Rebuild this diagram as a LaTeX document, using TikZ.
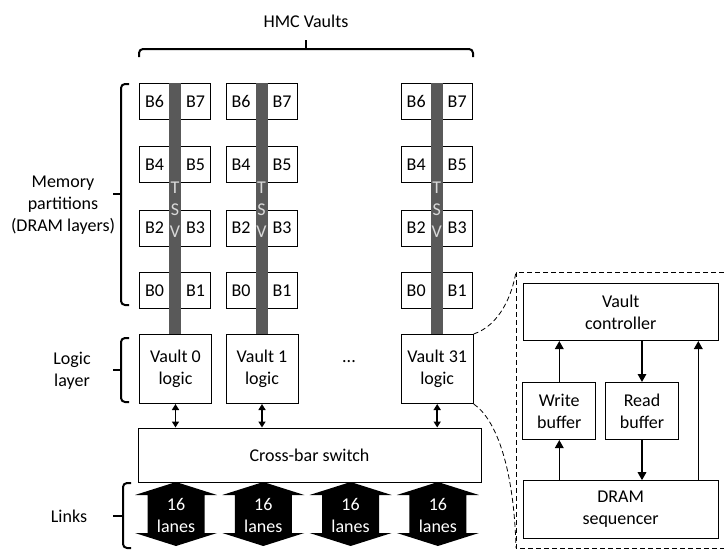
\documentclass[tikz,border=0pt]{standalone}
\usepackage{fontspec}
\setmainfont{Carlito}
\usetikzlibrary{arrows.meta,positioning}

\definecolor{tsvgray}{RGB}{89,89,89}
\definecolor{tsvtext}{RGB}{217,217,217}

\begin{document}
\begin{tikzpicture}[x=1pt,y=-1pt,
    label/.style={font=\fontsize{18}{22}\selectfont, align=center, inner sep=0pt},
    bank/.style={draw, line width=1pt, minimum width=30pt, minimum height=36pt,
        inner sep=0pt, font=\fontsize{18}{22}\selectfont},
    block/.style={draw, line width=1pt, align=center, inner sep=0pt,
        font=\fontsize{18}{22}\selectfont},
    bracket/.style={line width=2pt, rounded corners=4pt},
    link/.style={line width=1.6pt, >={Triangle[length=8pt,width=8.5pt]}},
    zoomline/.style={line width=1pt, dash pattern=on 5pt off 3pt}]
\useasboundingbox (0,0) rectangle (724,552);

% vaults: banks, TSV and logic die
\foreach \v/\x in {0/139,1/225.5,31/400.7}{
  \foreach \y/\lo/\hi in {83/6/7,146/4/5,209.5/2/3,272/0/1}{
    \node[bank, anchor=north west] (v\v b\lo) at (\x,\y) {B\lo};
    \node[bank, anchor=north east] (v\v b\hi) at (\x+72,\y) {B\hi};
  }
  \fill[tsvgray] (\x+30,83) rectangle (\x+42,334);
  \node[label, text=tsvtext] (tsv\v) at (\x+36,210) {T\\S\\V};
  \node[block, minimum width=72pt, minimum height=69pt, anchor=north west]
      (logic\v) at (\x,334) {Vault \v\\logic};
}
\node[label] (dots) at (349,362) {...};

\node[block, minimum width=343pt, minimum height=54pt] (xbar) at (309.5,455) {Cross-bar switch};
\foreach \v in {0,1,31}
  \draw[link,<->,>={Triangle[length=6pt,width=7pt]}] (logic\v.south) -- (logic\v.south |- xbar.north);

% links
\foreach \i in {1,...,4}{
  \pgfmathsetmacro\cx{176+87.3*(\i-1)}
  \fill (\cx,482) -- (\cx+41,495) -- (\cx+28.5,495) -- (\cx+28.5,533) -- (\cx+41,533)
     -- (\cx,546) -- (\cx-41,533) -- (\cx-28.5,533) -- (\cx-28.5,495) -- (\cx-41,495) -- cycle;
  \node[label, text=white] (lanes\i) at (\cx,515) {16\\lanes};
}

% brackets and captions
\draw[bracket] (473,57) |- (139,49) -- (139,57);
\draw[bracket] (306,49) -- (306,40);
\draw[bracket] (129,84) -| (121,305) -- (129,305);
\draw[bracket] (121,194) -- (113,194);
\draw[bracket] (129,338) -| (121,402) -- (129,402);
\draw[bracket] (121,370) -- (113,370);
\draw[bracket] (131,483) -| (123,548) -- (131,548);
\draw[bracket] (123,516) -- (113,516);

\node[label] (hmc) at (306,21) {HMC Vaults};
\node[label] (mem) at (63,205) {Memory\\partitions\\(DRAM layers)};
\node[label] (logiclayer) at (72,371) {Logic\\layer};
\node[label] (links) at (69,516) {Links};

% vault logic detail
\node[block, minimum width=195pt, minimum height=57pt] (ctrl) at (620.8,312) {Vault\\controller};
\node[block, minimum width=73pt, minimum height=57pt] (wbuf) at (559.3,411) {Write\\buffer};
\node[block, minimum width=73pt, minimum height=57pt] (rbuf) at (642,411) {Read\\buffer};
\node[block, minimum width=195pt, minimum height=57.6pt] (seq) at (620.6,509.5) {DRAM\\sequencer};
\coordinate (ret) at (698.3,0);

\draw[link,->] (wbuf.north) -- (wbuf.north |- ctrl.south);
\draw[link,->] (seq.north -| wbuf) -- (wbuf.south);
\draw[link,->] (ctrl.south -| rbuf) -- (rbuf.north);
\draw[link,->] (rbuf.south) -- (rbuf.south |- seq.north);
\draw[link,->] (seq.north -| ret) -- (ctrl.south -| ret);

\coordinate (zoomtop) at (516,272);
\coordinate (zoombot) at (516,548);
\draw[zoomline] (724,272) -- (zoomtop) -- (zoombot) -- (724,548);
\draw[zoomline, line width=0.8pt] (logic31.north east) .. controls (500,325) and (512,295) .. (zoomtop);
\draw[zoomline, line width=0.8pt] (logic31.south east) .. controls (497,420) and (514,470) .. (zoombot);
\end{tikzpicture}
\end{document}
